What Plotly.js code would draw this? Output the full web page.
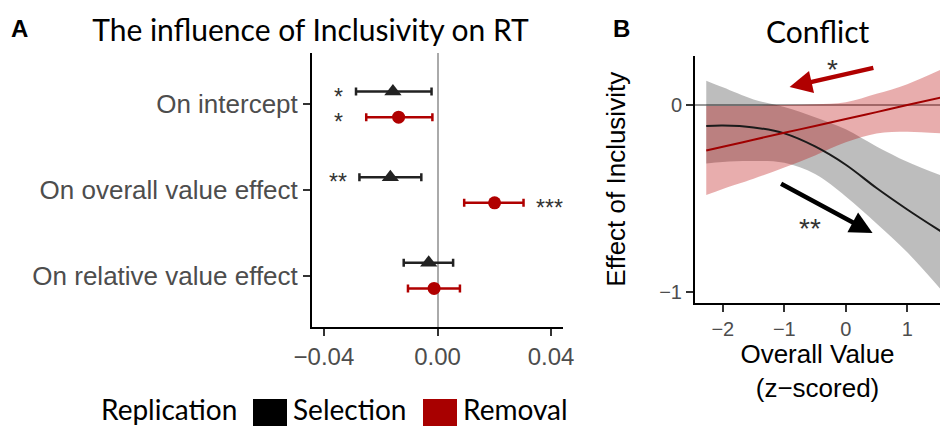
<!DOCTYPE html>
<html>
<head>
<meta charset="utf-8">
<script src="https://cdn.plot.ly/plotly-3.0.1.min.js"></script>
<style>html,body{margin:0;padding:0;background:#fff}#chart{width:940px;height:426px}</style>
</head>
<body>
<div id="chart"></div>
<script>
// ---------- Panel A data: influence of Inclusivity on RT ----------
const categories = ['On intercept', 'On overall value effect', 'On relative value effect'];
const selEst = [-0.0157, -0.0166, -0.0031];
const selLo  = [-0.0287, -0.0275, -0.0119];
const selHi  = [-0.0021, -0.0057,  0.0055];
const remEst = [-0.0137,  0.0201, -0.0012];
const remLo  = [-0.0251,  0.0094, -0.0104];
const remHi  = [-0.0018,  0.0303,  0.0079];
const selSig = ['*', '**', ''];
const remSig = ['*', '***', ''];
const xTickVals = [-0.04, 0, 0.04];
const xTickText = ['\u22120.04', '0.00', '0.04'];

// ---------- Panel B data: Conflict ----------
const overallValue = [-2.27, -2, -1.5, -1, -0.5, 0, 0.5, 1, 1.55];
const selFit   = [-0.113, -0.110, -0.120, -0.152, -0.222, -0.320, -0.445, -0.560, -0.678];
const selUpper = [ 0.130,  0.095,  0.030, -0.010, -0.065, -0.130, -0.222, -0.304, -0.378];
const selLower = [-0.313, -0.305, -0.300, -0.310, -0.370, -0.490, -0.635, -0.790, -0.990];
const remFit   = [-0.244, -0.224, -0.186, -0.149, -0.112, -0.075, -0.038,  0.000,  0.040];
const remUpper = [-0.005, -0.005, -0.005,  0.000,  0.004,  0.015,  0.060,  0.112,  0.190];
const remLower = [-0.483, -0.450, -0.395, -0.335, -0.270, -0.200, -0.152, -0.143, -0.152];
const bTickVals = [-2, -1, 0, 1];
const bYTickVals = [0, -1];

// ---------- styling ----------
const W = 940, H = 426;
const px = v => v / W;           // pixel -> paper x
const py = v => 1 - v / H;       // pixel -> paper y
const RED = '#b00000';
const HELV = 'Liberation Sans, Arial, sans-serif';
const MYR = 'Lato, Open Sans, sans-serif';
const TICKCOL = '#4d4d4d';
const dodge = 0.15;
const yPos = categories.map((c, i) => categories.length - i);

const traces = [];
traces.push({
  type: 'scatter', mode: 'markers', name: 'Selection', showlegend: false,
  x: selEst, y: yPos.map(v => v + dodge), xaxis: 'x', yaxis: 'y',
  marker: {symbol: 'triangle-up', size: 15, color: '#222'},
  error_x: {type: 'data', symmetric: false,
    array: selHi.map((h, i) => h - selEst[i]),
    arrayminus: selEst.map((e, i) => e - selLo[i]),
    color: '#222', thickness: 2.5, width: 4}
});
traces.push({
  type: 'scatter', mode: 'markers', name: 'Removal', showlegend: false,
  x: remEst, y: yPos.map(v => v - dodge), xaxis: 'x', yaxis: 'y',
  marker: {symbol: 'circle', size: 13, color: RED},
  error_x: {type: 'data', symmetric: false,
    array: remHi.map((h, i) => h - remEst[i]),
    arrayminus: remEst.map((e, i) => e - remLo[i]),
    color: RED, thickness: 2.5, width: 4}
});

// Panel B ribbons
function ribbon(lower, upper, fill, name) {
  traces.push({type: 'scatter', mode: 'lines', x: overallValue, y: lower, xaxis: 'x2', yaxis: 'y2',
    line: {width: 0, shape: 'spline'}, showlegend: false, hoverinfo: 'skip', name: name + ' lower'});
  traces.push({type: 'scatter', mode: 'lines', x: overallValue, y: upper, xaxis: 'x2', yaxis: 'y2',
    line: {width: 0, shape: 'spline'}, fill: 'tonexty', fillcolor: fill, showlegend: false,
    hoverinfo: 'skip', name: name + ' upper'});
}
ribbon(selLower, selUpper, 'rgba(0,0,0,0.26)', 'Selection');
ribbon(remLower, remUpper, 'rgba(185,0,0,0.32)', 'Removal');
traces.push({type: 'scatter', mode: 'lines', x: overallValue, y: selFit, xaxis: 'x2', yaxis: 'y2',
  line: {color: '#1a1a1a', width: 2, shape: 'spline'}, showlegend: false, name: 'Selection'});
traces.push({type: 'scatter', mode: 'lines', x: overallValue, y: remFit, xaxis: 'x2', yaxis: 'y2',
  line: {color: '#a00000', width: 2, shape: 'spline'}, showlegend: false, name: 'Removal'});

// annotations
const ann = [];
const starX = {neg: -0.035, pos: 0.0394};
function addStars(sig, est, off) {
  sig.forEach((s, i) => {
    if (!s) return;
    ann.push({xref: 'x', yref: 'y', x: est[i] < 0 ? starX.neg : starX.pos, y: yPos[i] + off,
      text: s, showarrow: false, xanchor: 'center', yanchor: 'middle', yshift: -5,
      font: {family: HELV, size: 23, color: '#333'}});
  });
}
addStars(selSig, selEst, dodge);
addStars(remSig, remEst, -dodge);

// panel letters and B title
ann.push({xref: 'paper', yref: 'paper', x: px(19), y: py(29), text: '<b>A</b>', showarrow: false,
  xanchor: 'center', yanchor: 'middle', font: {family: HELV, size: 24, color: '#000'}});
ann.push({xref: 'paper', yref: 'paper', x: px(621), y: py(29), text: '<b>B</b>', showarrow: false,
  xanchor: 'center', yanchor: 'middle', font: {family: HELV, size: 24, color: '#000'}});
ann.push({xref: 'paper', yref: 'paper', x: px(817.5), y: py(31), text: 'Conflict', showarrow: false,
  xanchor: 'center', yanchor: 'middle', font: {family: MYR, size: 30, color: '#000'}});

// B arrows and stars
ann.push({xref: 'x2', yref: 'y2', axref: 'x2', ayref: 'y2', x: -0.914, y: 0.097, ax: 0.473, ay: 0.201,
  text: '', showarrow: true, arrowhead: 2, arrowsize: 1, arrowwidth: 4.5, arrowcolor: RED});
ann.push({xref: 'x2', yref: 'y2', axref: 'x2', ayref: 'y2', x: 0.436, y: -0.686, ax: -1.077, ay: -0.418,
  text: '', showarrow: true, arrowhead: 2, arrowsize: 1, arrowwidth: 4.5, arrowcolor: '#000'});
ann.push({xref: 'x2', yref: 'y2', x: -0.21, y: 0.225, text: '*', showarrow: false, yshift: -6,
  font: {family: HELV, size: 28, color: '#333'}});
ann.push({xref: 'x2', yref: 'y2', x: -0.587, y: -0.631, text: '**', showarrow: false, yshift: -6,
  font: {family: HELV, size: 28, color: '#333'}});

// legend (manual, ggplot-style bottom legend)
ann.push({xref: 'paper', yref: 'paper', x: px(99), y: py(409), text: 'Replication', showarrow: false,
  xanchor: 'left', yanchor: 'middle', font: {family: MYR, size: 28, color: '#000'}});
ann.push({xref: 'paper', yref: 'paper', x: px(291), y: py(409), text: 'Selection', showarrow: false,
  xanchor: 'left', yanchor: 'middle', font: {family: MYR, size: 28, color: '#000'}});
ann.push({xref: 'paper', yref: 'paper', x: px(461), y: py(409), text: 'Removal', showarrow: false,
  xanchor: 'left', yanchor: 'middle', font: {family: MYR, size: 28, color: '#000'}});
const shapes = [
  {type: 'rect', xref: 'paper', yref: 'paper', x0: px(253), x1: px(287), y0: py(399), y1: py(430),
    fillcolor: '#000', line: {width: 0}},
  {type: 'rect', xref: 'paper', yref: 'paper', x0: px(423), x1: px(457), y0: py(399), y1: py(430),
    fillcolor: '#a80000', line: {width: 0}}
];

const axisCommon = {showline: true, linecolor: '#000', linewidth: 2, ticks: 'outside', ticklen: 7,
  tickwidth: 2, tickcolor: '#333', showgrid: false, mirror: false};

const layout = {
  width: W, height: H, margin: {l: 0, r: 0, t: 0, b: 0}, paper_bgcolor: '#fff', plot_bgcolor: '#fff',
  showlegend: false,
  title: {text: 'The influence of Inclusivity on RT', x: px(310.5), xanchor: 'center', xref: 'paper',
    y: py(30), yanchor: 'middle', yref: 'paper', font: {family: MYR, size: 30, color: '#000'}},
  xaxis: Object.assign({}, axisCommon, {domain: [px(312), px(563)], range: [-0.0442, 0.0442],
    tickvals: xTickVals, ticktext: xTickText, zeroline: true, zerolinecolor: '#aaaaaa', zerolinewidth: 2,
    tickfont: {family: HELV, size: 24, color: TICKCOL}, anchor: 'y'}),
  yaxis: Object.assign({}, axisCommon, {domain: [1 - 327 / H, 1 - 53 / H], range: [0.4, 3.6],
    tickvals: yPos, ticktext: categories, zeroline: false,
    tickfont: {family: HELV, size: 26, color: TICKCOL}, anchor: 'x'}),
  xaxis2: Object.assign({}, axisCommon, {domain: [px(695), 1], range: [-2.453, 1.533],
    tickvals: bTickVals, zeroline: false, tickfont: {family: HELV, size: 20, color: TICKCOL}, anchor: 'y2',
    title: {text: 'Overall Value<br>(z\u2212scored)', font: {family: HELV, size: 26, color: '#000'}, standoff: 5}}),
  yaxis2: Object.assign({}, axisCommon, {domain: [1 - 302.5 / H, 1 - 56 / H], range: [-1.059, 0.263],
    tickvals: bYTickVals, zeroline: true, zerolinecolor: '#999999', zerolinewidth: 2,
    tickfont: {family: HELV, size: 20, color: TICKCOL}, anchor: 'x2',
    title: {text: 'Effect of Inclusivity', font: {family: HELV, size: 26, color: '#000'}, standoff: 26}}),
  annotations: ann,
  shapes: shapes
};

Plotly.newPlot('chart', traces, layout, {displayModeBar: false, staticPlot: true});
</script>
</body>
</html>
